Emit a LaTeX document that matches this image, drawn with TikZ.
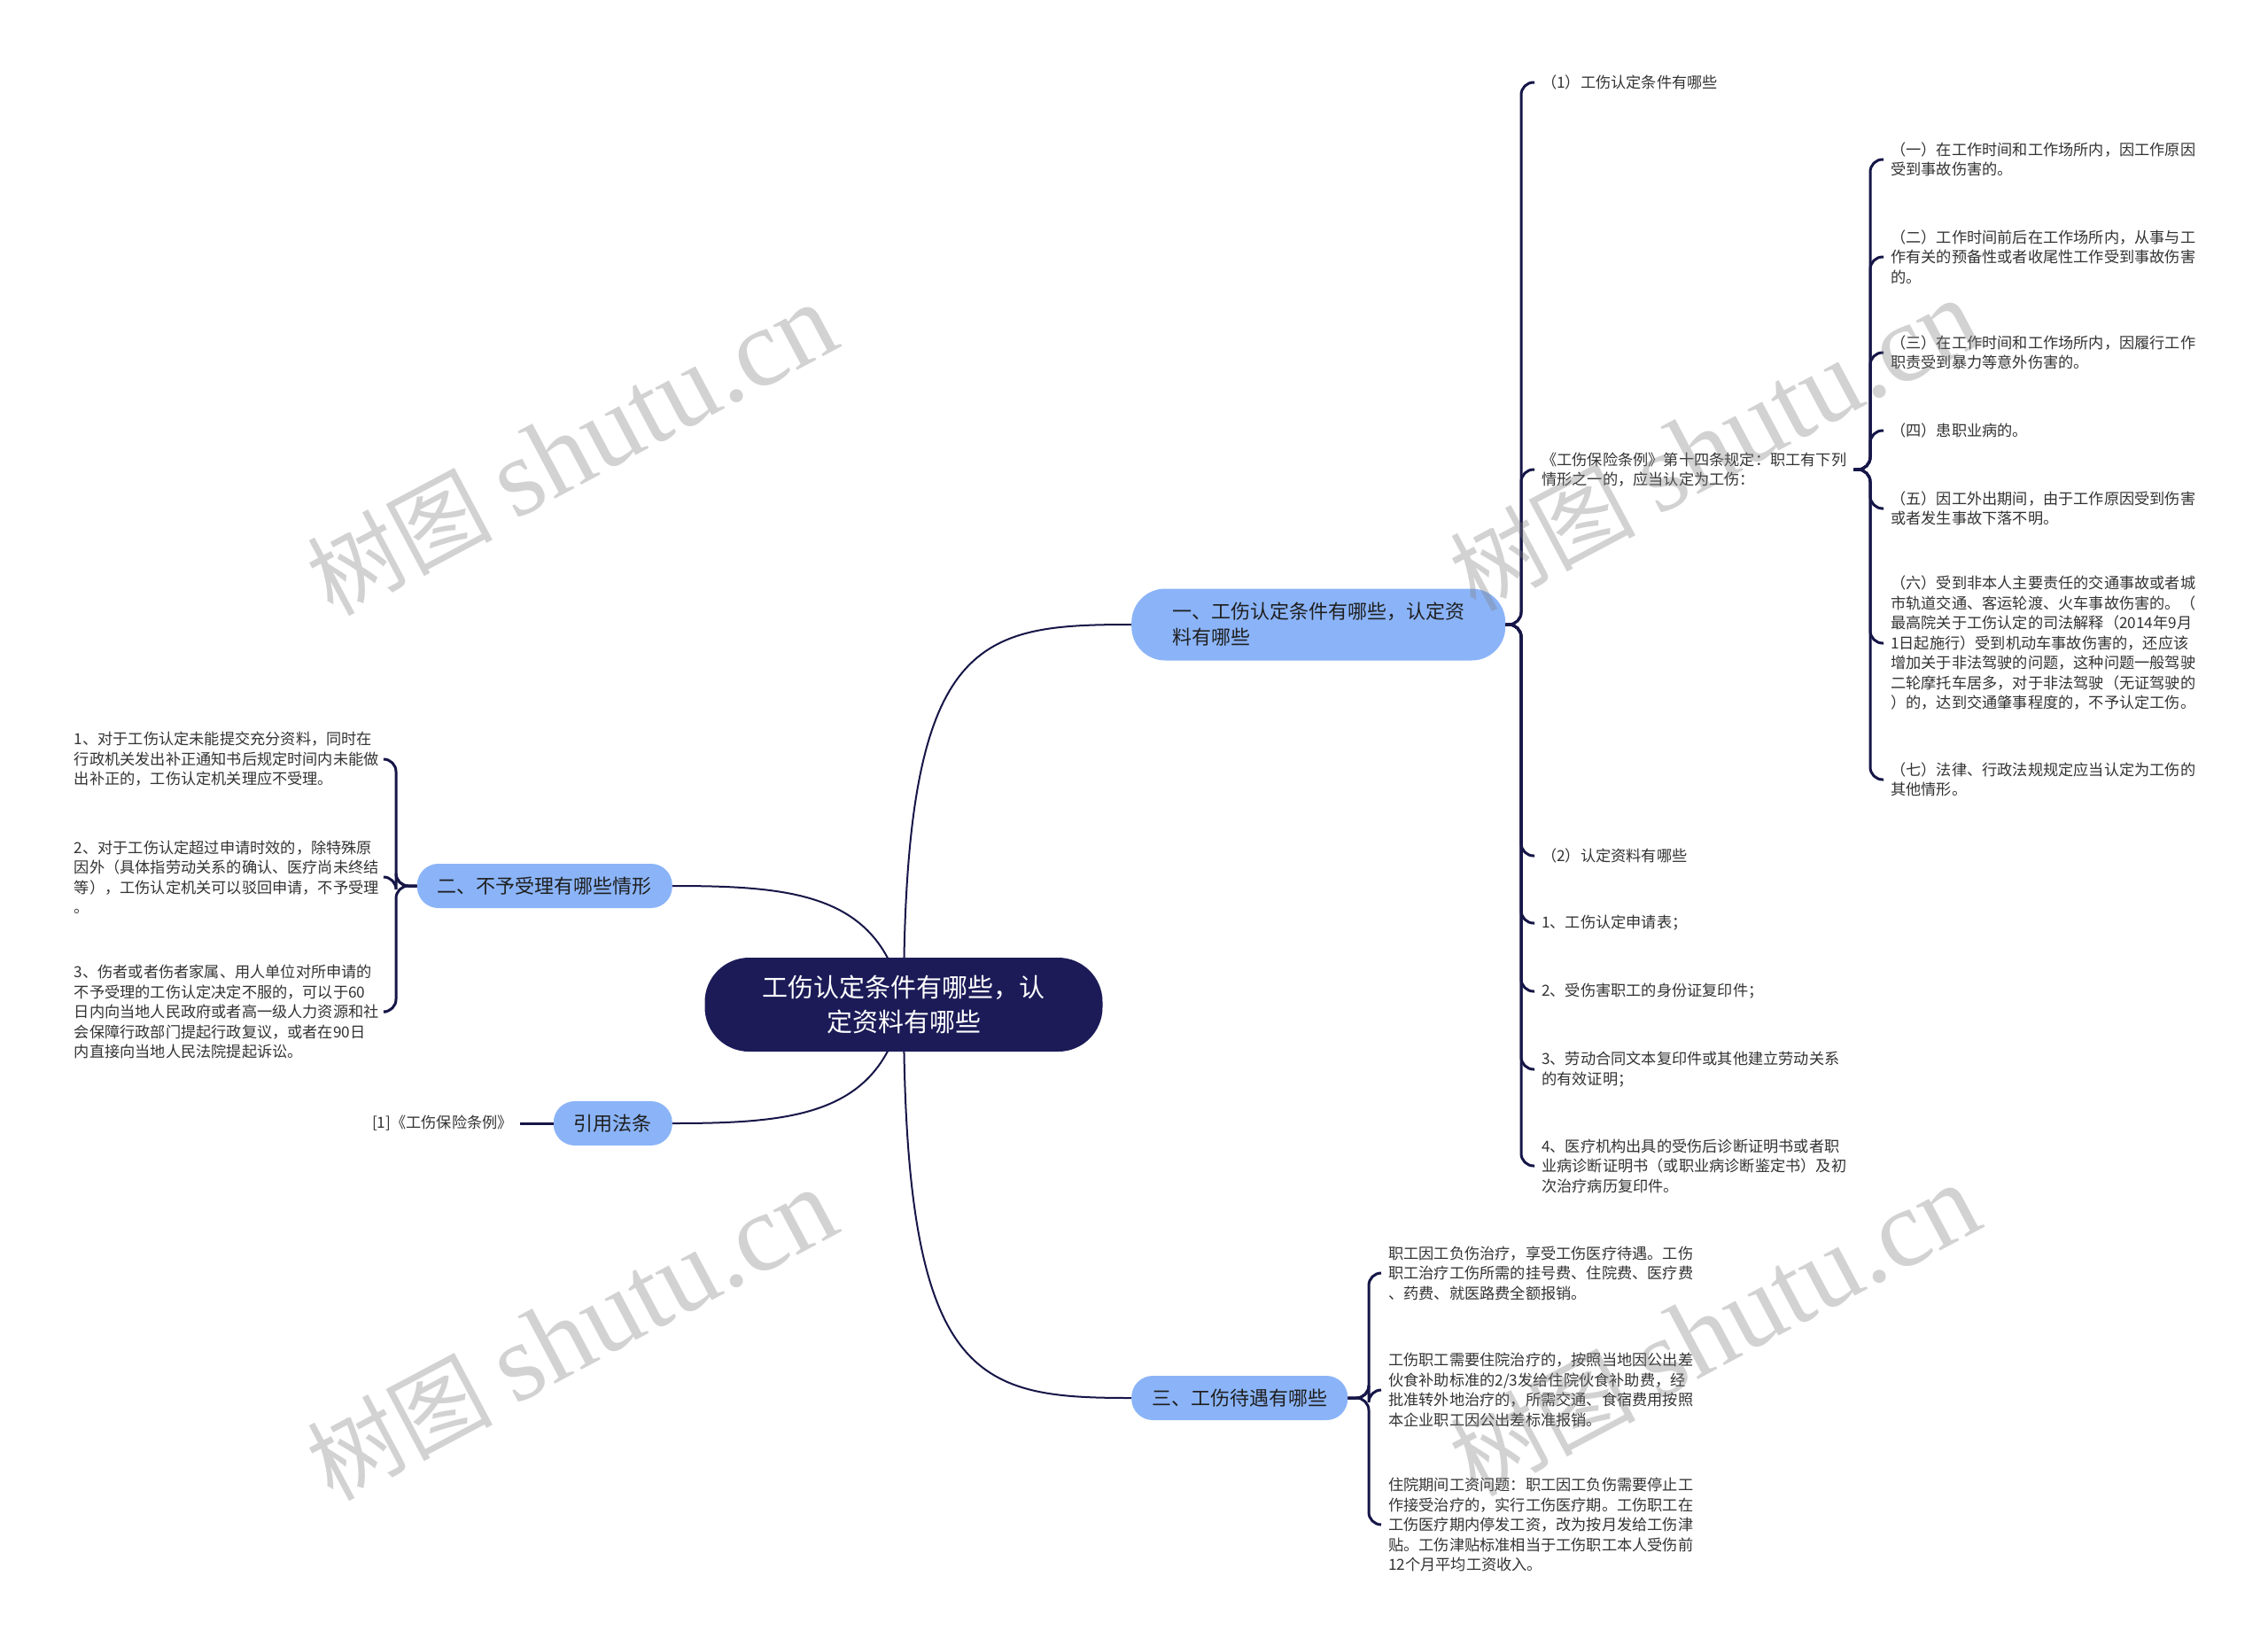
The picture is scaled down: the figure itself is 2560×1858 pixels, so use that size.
\documentclass[tikz,border=0pt]{standalone}
\usepackage{fontspec}
\setmainfont{Noto Sans CJK SC}
\newfontfamily\wmserif{Liberation Serif}
\usepackage{tikz}
\usetikzlibrary{backgrounds}
\definecolor{rootnavy}{RGB}{28,27,88}
\definecolor{linknavy}{RGB}{22,22,72}
\definecolor{branchblue}{RGB}{139,180,248}
\definecolor{leafgray}{RGB}{51,51,51}
\tikzset{
    % central topic
    rootnode/.style={
        rectangle, rounded corners=50pt, fill=rootnavy, text=white,
        minimum width=449pt, minimum height=106pt, align=center,
        font=\fontsize{29}{39}\selectfont
    },
    % first level topics
    branchnode/.style={
        rectangle, rounded corners=24pt, fill=branchblue, text=black!88,
        minimum height=50pt, inner xsep=23pt, align=left,
        font=\fontsize{22}{29}\selectfont
    },
    % plain text leaves
    leafnode/.style={
        inner ysep=0pt, inner xsep=8pt, align=left, text=leafgray,
        font=\fontsize{17.2}{22.5}\selectfont
    },
    % connectors
    link/.style={draw=linknavy, line width=2pt},
    sublink/.style={draw=linknavy, line width=3pt, rounded corners=14pt},
    watermark/.style={text=gray, text opacity=0.35, rotate=28,
        font=\fontsize{105}{105}\selectfont},
}
\begin{document}
\begin{tikzpicture}[x=1pt,y=-1pt]
  \useasboundingbox (0,0) rectangle (2560,1858);
  % topics
  \node[rootnode] (root) at (1020,1134) {工伤认定条件有哪些，认\\定资料有哪些};
  \node[branchnode,anchor=west,minimum height=81pt,inner xsep=46pt,rounded corners=38pt] (b1) at (1277,705)
       {一、工伤认定条件有哪些，认定资\\料有哪些};
  \node[branchnode,anchor=east] (b2) at (759,1000) {二、不予受理有哪些情形};
  \node[branchnode,anchor=east] (b3) at (759,1268) {引用法条};
  \node[branchnode,anchor=west] (b4) at (1277,1578) {三、工伤待遇有哪些};

  % leaves of b1
  \node[leafnode,anchor=west] (a1) at (1732,93) {（1）工伤认定条件有哪些};
  \node[leafnode,anchor=west] (a2) at (1732,530) {《工伤保险条例》第十四条规定：职工有下列\\情形之一的，应当认定为工伤：};
  \node[leafnode,anchor=west] (a3) at (1732,966) {（2）认定资料有哪些};
  \node[leafnode,anchor=west] (a4) at (1732,1042) {1、工伤认定申请表；};
  \node[leafnode,anchor=west] (a5) at (1732,1119) {2、受伤害职工的身份证复印件；};
  \node[leafnode,anchor=west] (a6) at (1732,1207) {3、劳动合同文本复印件或其他建立劳动关系\\的有效证明；};
  \node[leafnode,anchor=west] (a7) at (1732,1316) {4、医疗机构出具的受伤后诊断证明书或者职\\业病诊断证明书（或职业病诊断鉴定书）及初\\次治疗病历复印件。};

  % leaves of a2
  \node[leafnode,anchor=west] (e1) at (2126,180) {（一）在工作时间和工作场所内，因工作原因\\受到事故伤害的。};
  \node[leafnode,anchor=west] (e2) at (2126,290) {（二）工作时间前后在工作场所内，从事与工\\作有关的预备性或者收尾性工作受到事故伤害\\的。};
  \node[leafnode,anchor=west] (e3) at (2126,398) {（三）在工作时间和工作场所内，因履行工作\\职责受到暴力等意外伤害的。};
  \node[leafnode,anchor=west] (e4) at (2126,486) {（四）患职业病的。};
  \node[leafnode,anchor=west] (e5) at (2126,574) {（五）因工外出期间，由于工作原因受到伤害\\或者发生事故下落不明。};
  \node[leafnode,anchor=west] (e6) at (2126,726) {（六）受到非本人主要责任的交通事故或者城\\市轨道交通、客运轮渡、火车事故伤害的。（\\最高院关于工伤认定的司法解释（2014年9月\\1日起施行）受到机动车事故伤害的，还应该\\增加关于非法驾驶的问题，这种问题一般驾驶\\二轮摩托车居多，对于非法驾驶（无证驾驶的\\）的，达到交通肇事程度的，不予认定工伤。};
  \node[leafnode,anchor=west] (e7) at (2126,880) {（七）法律、行政法规规定应当认定为工伤的\\其他情形。};

  % leaves of b2
  \node[leafnode,anchor=east] (c1) at (436,857) {1、对于工伤认定未能提交充分资料，同时在\\行政机关发出补正通知书后规定时间内未能做\\出补正的，工伤认定机关理应不受理。};
  \node[leafnode,anchor=east] (c2) at (436,990) {2、对于工伤认定超过申请时效的，除特殊原\\因外（具体指劳动关系的确认、医疗尚未终结\\等），工伤认定机关可以驳回申请，不予受理\\。};
  \node[leafnode,anchor=east] (c3) at (436,1142) {3、伤者或者伤者家属、用人单位对所申请的\\不予受理的工伤认定决定不服的，可以于60\\日内向当地人民政府或者高一级人力资源和社\\会保障行政部门提起行政复议，或者在90日\\内直接向当地人民法院提起诉讼。};

  % leaf of b3
  \node[leafnode,anchor=east] (f1) at (587,1268) {[1]《工伤保险条例》};

  % leaves of b4
  \node[leafnode,anchor=west] (d1) at (1559,1437) {职工因工负伤治疗，享受工伤医疗待遇。工伤\\职工治疗工伤所需的挂号费、住院费、医疗费\\、药费、就医路费全额报销。};
  \node[leafnode,anchor=west] (d2) at (1559,1569) {工伤职工需要住院治疗的，按照当地因公出差\\伙食补助标准的2/3发给住院伙食补助费，经\\批准转外地治疗的，所需交通、食宿费用按照\\本企业职工因公出差标准报销。};
  \node[leafnode,anchor=west] (d3) at (1559,1721) {住院期间工资问题：职工因工负伤需要停止工\\作接受治疗的，实行工伤医疗期。工伤职工在\\工伤医疗期内停发工资，改为按月发给工伤津\\贴。工伤津贴标准相当于工伤职工本人受伤前\\12个月平均工资收入。};

  % junctions
  \coordinate (j1) at (1717,705);
  \coordinate (j2) at (2111,530);
  \coordinate (j3) at (447,1000);
  \coordinate (j4) at (1545,1578);

  % root to topics
  \begin{scope}[on background layer]
    \fill[white] (0,0) rectangle (2560,1858);
    \draw[link] (root.center) .. controls (1020,720) and (1100,705) .. (b1.west);
    \draw[link] (root.center) .. controls (995,1010) and (900,1000) .. (b2.east);
    \draw[link] (root.center) .. controls (995,1258) and (900,1268) .. (b3.east);
    \draw[link] (root.center) .. controls (1020,1560) and (1100,1578) .. (b4.west);
  \end{scope}

  % topics to leaves
  \foreach \n in {a1,a2,a3,a4,a5,a6,a7}{\draw[sublink] (b1.east) -- (j1) |- (\n.west);}
  \foreach \n in {e1,e2,e3,e4,e5,e6,e7}{\draw[sublink] (a2.east) -- (j2) |- (\n.west);}
  \foreach \n in {c1,c2,c3}{\draw[sublink] (b2.west) -- (j3) |- (\n.east);}
  \foreach \n in {d1,d2,d3}{\draw[sublink] (b4.east) -- (j4) |- (\n.west);}
  \draw[sublink] (b3.west) -- (f1.east);

  % watermarks
  \foreach \p/\q [count=\i] in {645/508,1935/503,645/1507,1935/1502}{
    \node[watermark] (wm\i) at (\p,\q) {树图 {\wmserif\fontsize{125}{125}\selectfont shutu.cn}};}
\end{tikzpicture}
\end{document}
